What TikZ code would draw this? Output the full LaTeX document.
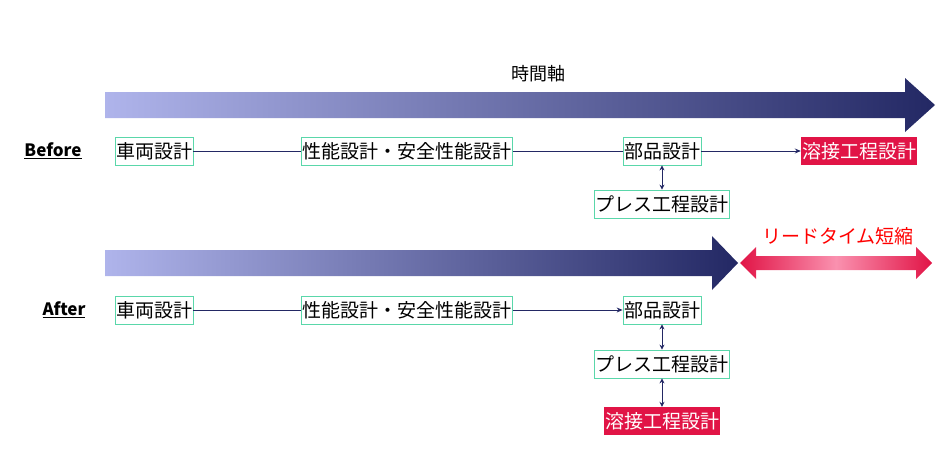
\documentclass[tikz,border=0pt]{standalone}
\usepackage{fontspec}
\setmainfont{Noto Sans CJK JP}
\usetikzlibrary{arrows.meta}
\definecolor{navy}{RGB}{35,40,100}
\definecolor{lav}{RGB}{175,180,235}
\definecolor{boxg}{RGB}{90,215,170}
\definecolor{wred}{RGB}{225,20,70}
\definecolor{pinkm}{RGB}{250,145,175}
\begin{document}
\begin{tikzpicture}[x=1pt,y=-1pt,
  bx/.style={draw=boxg,line width=0.8pt,inner sep=1pt,minimum height=28pt,font=\fontsize{19}{19}\selectfont},
  rbx/.style={fill=wred,text=white,inner sep=1pt,minimum height=28pt,font=\fontsize{19}{19}\selectfont},
  ln/.style={navy,line width=0.9pt},
  ar/.style={ln,-{Stealth[length=6pt,width=5pt]}},
  dar/.style={ln,{Stealth[length=5pt,width=5pt]}-{Stealth[length=5pt,width=5pt]}}]
\useasboundingbox (0,0) rectangle (947,471);
% top arrow
\shade[left color=lav,right color=navy] (105,92) -- (905,92) -- (905,78) -- (935,105) -- (905,132) -- (905,118) -- (105,118) -- cycle;
\node[font=\fontsize{18}{18}\selectfont] (t) at (538,74) {時間軸};
% second arrow
\shade[left color=lav,right color=navy] (105,250) -- (712,250) -- (712,236) -- (738,263) -- (712,290) -- (712,276) -- (105,276) -- cycle;
\shade[left color=wred,right color=wred,middle color=pinkm] (740,263) -- (756,247) -- (756,256) -- (916,256) -- (916,247) -- (932,263) -- (916,279) -- (916,270) -- (756,270) -- (756,279) -- cycle;
\node[text=red,font=\fontsize{19}{19}\selectfont] (lt) at (838,236) {リードタイム短縮};
% Before
\node[font=\bfseries\fontsize{17}{17}\selectfont] (bl) at (53,151) {\underline{Before}};
\node[bx] (b1) at (154,151) {車両設計};
\node[bx] (b2) at (407,151) {性能設計・安全性能設計};
\node[bx] (b3) at (662,151) {部品設計};
\node[rbx] (b4) at (859,151) {溶接工程設計};
\node[bx] (b5) at (662,204) {プレス工程設計};
\draw[ln] (b1) -- (b2);
\draw[ln] (b2) -- (b3);
\draw[ar] (b3) -- (b4);
\draw[dar] (b3) -- (b5);
% After
\node[font=\bfseries\fontsize{17}{17}\selectfont] (al) at (64,310) {\underline{After}};
\node[bx] (a1) at (154,310) {車両設計};
\node[bx] (a2) at (407,310) {性能設計・安全性能設計};
\node[bx] (a3) at (662,310) {部品設計};
\node[bx] (a5) at (662,364) {プレス工程設計};
\node[rbx] (a4) at (662,421) {溶接工程設計};
\draw[ln] (a1) -- (a2);
\draw[ar] (a2) -- (a3);
\draw[dar] (a3) -- (a5);
\draw[dar] (a5) -- (a4);
\end{tikzpicture}
\end{document}
